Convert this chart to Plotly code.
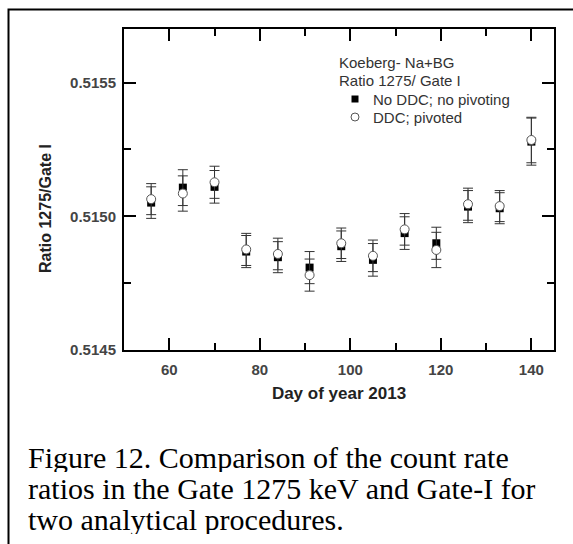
import plotly.graph_objects as go

# Day of year 2013 for each weekly measurement
days = [56, 63, 70, 77, 84, 91, 98, 105, 112, 119, 126, 133, 140]

# Ratio 1275 / Gate I, no dead-time correction, no pivoting
ratio_no_ddc = [0.515051, 0.515107, 0.515110, 0.514868, 0.514847, 0.514808, 0.514888,
                0.514837, 0.514937, 0.514899, 0.515036, 0.515030, 0.515279]
err_no_ddc = [5.9e-5, 6.7e-5, 6.1e-5, 6.0e-5, 5.8e-5, 6.0e-5, 5.7e-5,
              6.1e-5, 6.1e-5, 6.0e-5, 6.0e-5, 5.8e-5, 8.8e-5]

# Ratio 1275 / Gate I, dead-time corrected and pivoted
ratio_ddc = [0.515064, 0.515085, 0.515127, 0.514876, 0.514859, 0.514780, 0.514899,
             0.514852, 0.514951, 0.514874, 0.515045, 0.515038, 0.515285]
err_ddc = [5.8e-5, 6.6e-5, 6.0e-5, 6.0e-5, 5.9e-5, 6.0e-5, 5.7e-5,
           5.9e-5, 5.9e-5, 6.6e-5, 6.0e-5, 5.8e-5, 8.5e-5]

series_names = ["No DDC; no pivoting", "DDC; pivoted"]
key_title = ["Koeberg- Na+BG", "Ratio 1275/ Gate I"]

caption_lines = [
    "Figure 12. Comparison of the count rate",
    "ratios in the Gate 1275 keV and Gate-I for",
    "two analytical procedures.",
]

W, H = 573, 544
L, R, T, B = 124, 554, 29, 350  # plot area in pixels


def px(x):
    return (x - L) / (R - L)


def py(y):
    return (B - y) / (B - T)


SANS = "Liberation Sans, Arial, sans-serif"
SERIF = "Liberation Serif, Times New Roman, serif"
KEY_FONT = dict(family=SANS, size=15, color="#333333")

fig = go.Figure()

fig.add_trace(go.Scatter(
    x=days, y=ratio_no_ddc, mode="markers", name=series_names[0],
    marker=dict(symbol="square", size=8, color="black"),
    error_y=dict(type="data", array=err_no_ddc, color="#333333", thickness=1, width=5),
))
fig.add_trace(go.Scatter(
    x=days, y=ratio_ddc, mode="markers", name=series_names[1],
    marker=dict(symbol="circle", size=9, color="white",
                line=dict(color="#555555", width=1)),
    error_y=dict(type="data", array=err_ddc, color="#333333", thickness=1, width=5),
))

axis_common = dict(
    showline=True, linecolor="black", linewidth=2, mirror="allticks",
    ticks="inside", ticklen=12, tickwidth=2, tickcolor="black",
    showgrid=False, zeroline=False,
    tickfont=dict(family=SANS, size=15, color="#444444", weight="bold"),
)

fig.update_xaxes(
    range=[50, 145], dtick=20, tick0=0,
    minor=dict(dtick=10, tick0=0, ticks="inside", ticklen=7, tickwidth=2,
               tickcolor="black", showgrid=False),
    ticklabelstandoff=5,
    title=dict(text="Day of year 2013", standoff=10,
               font=dict(family=SANS, size=17, color="#222222", weight="bold")),
    **axis_common,
)
fig.update_yaxes(
    range=[0.5145, 0.5157], dtick=0.0005, tick0=0.5145, tickformat=".4f",
    minor=dict(dtick=0.00025, tick0=0.5145, ticks="inside", ticklen=7, tickwidth=2,
               tickcolor="black", showgrid=False),
    ticklabelstandoff=3,
    **axis_common,
)

annotations = [
    dict(text="Ratio 1275/Gate I", x=px(45), y=py(209), xref="paper", yref="paper",
         textangle=-90, showarrow=False, xanchor="center", yanchor="middle",
         font=dict(family=SANS, size=16, color="#222222", weight="bold")),
]

# key: two title lines, then one line per series
for i, line in enumerate(key_title):
    annotations.append(dict(
        text=line, x=px(337), y=py(62 + 18 * i), xref="paper", yref="paper",
        showarrow=False, xanchor="left", yanchor="middle", font=KEY_FONT))
for i, name in enumerate(series_names):
    annotations.append(dict(
        text=name, x=px(371), y=py(99 + 18 * i), xref="paper", yref="paper",
        showarrow=False, xanchor="left", yanchor="middle", font=KEY_FONT))

# caption, one annotation per line so the line pitch stays tight
for i, line in enumerate(caption_lines):
    annotations.append(dict(
        text=line, x=px(27), y=py(457 + 31 * i), xref="paper", yref="paper",
        showarrow=False, xanchor="left", yanchor="middle",
        height=29, valign="middle", borderpad=0,
        font=dict(family=SERIF, size=30, color="black"),
    ))

shapes = [
    # frame around the figure and its caption
    dict(type="rect", xref="paper", yref="paper",
         x0=px(8.5), x1=px(590), y0=py(580), y1=py(9.5),
         line=dict(color="black", width=2), fillcolor="rgba(0,0,0,0)"),
    # key glyphs
    dict(type="rect", xref="paper", yref="paper",
         x0=px(351.5), x1=px(358.5), y0=py(102.5), y1=py(95.5),
         line=dict(width=0), fillcolor="black"),
    dict(type="circle", xref="paper", yref="paper",
         x0=px(351), x1=px(359), y0=py(121), y1=py(113),
         line=dict(color="#555555", width=1), fillcolor="white"),
]

fig.update_layout(
    width=W, height=H,
    margin=dict(l=L, r=W - R, t=T, b=H - B, pad=0),
    paper_bgcolor="white", plot_bgcolor="white",
    showlegend=False,
    annotations=annotations,
    shapes=shapes,
)

fig.write_html("out.html")
